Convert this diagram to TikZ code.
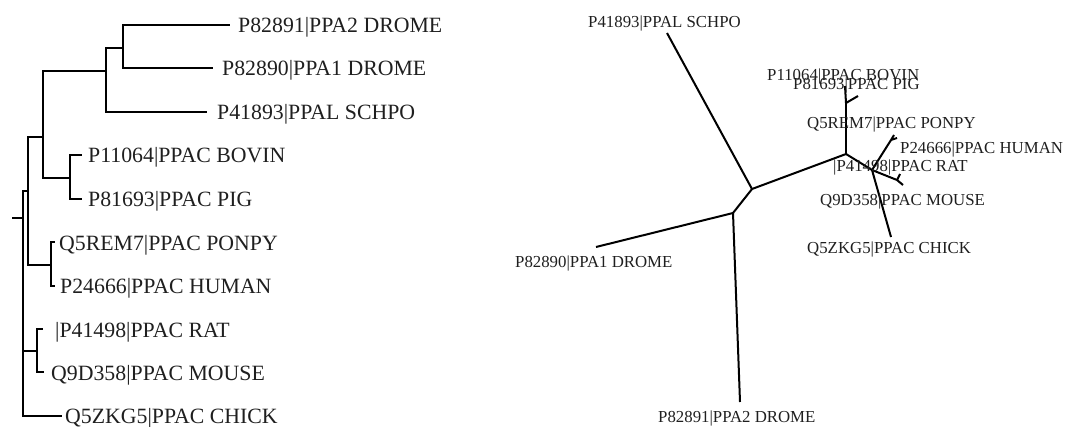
\documentclass[tikz,border=0pt]{standalone}
\usepackage{fontspec}
\setmainfont{Liberation Serif}
\tikzset{
  ltree/.style={line width=2.6pt, line join=miter},
  rtree/.style={line width=2pt, line join=round},
  llab/.style={anchor=base west, inner sep=0pt, text=black!88, font=\fontsize{21.8}{26}\selectfont},
  rlab/.style={anchor=base west, inner sep=0pt, text=black!88, font=\fontsize{16.8}{20}\selectfont},
}
\begin{document}
\begin{tikzpicture}[x=1pt,y=-1pt]
\useasboundingbox (0,0) rectangle (1067,426);

% ---------- rooted phylogram ----------
\coordinate (L0) at (12,218);
\coordinate (R) at (23,218);
\coordinate (E) at (28,191);
\coordinate (C) at (43,137);
\coordinate (B) at (106,71);
\coordinate (A) at (123,48);
\coordinate (D) at (70,178);
\coordinate (F) at (51,265);
\coordinate (G) at (37,351);
\coordinate (tDR2) at (230,25);
\coordinate (tDR1) at (213,68);
\coordinate (tSCH) at (207,112);
\coordinate (tBOV) at (82,155);
\coordinate (tPIG) at (82,199);
\coordinate (tPON) at (55,242);
\coordinate (tHUM) at (55,286);
\coordinate (tRAT) at (43,329);
\coordinate (tMOU) at (44,372);
\coordinate (tCHI) at (62,416);

\draw[ltree] (L0) -- (R);
\draw[ltree] (R) |- (E);
\draw[ltree] (R) |- (G);
\draw[ltree] (R) |- (tCHI);
\draw[ltree] (E) |- (C);
\draw[ltree] (E) |- (F);
\draw[ltree] (C) |- (B);
\draw[ltree] (C) |- (D);
\draw[ltree] (B) |- (A);
\draw[ltree] (B) |- (tSCH);
\draw[ltree] (A) |- (tDR2);
\draw[ltree] (A) |- (tDR1);
\draw[ltree] (D) |- (tBOV);
\draw[ltree] (D) |- (tPIG);
\draw[ltree] (F) |- (tPON);
\draw[ltree] (F) |- (tHUM);
\draw[ltree] (G) |- (tRAT);
\draw[ltree] (G) |- (tMOU);

\node[llab] (lDR2) at (238,32) {P82891|PPA2 DROME};
\node[llab] (lDR1) at (222,75) {P82890|PPA1 DROME};
\node[llab] (lSCH) at (217,119) {P41893|PPAL SCHPO};
\node[llab] (lBOV) at (88,162) {P11064|PPAC BOVIN};
\node[llab] (lPIG) at (88,206) {P81693|PPAC PIG};
\node[llab] (lPON) at (59,250) {Q5REM7|PPAC PONPY};
\node[llab] (lHUM) at (60,293) {P24666|PPAC HUMAN};
\node[llab] (lRAT) at (55,337) {|P41498|PPAC RAT};
\node[llab] (lMOU) at (51,380) {Q9D358|PPAC MOUSE};
\node[llab] (lCHI) at (65,423) {Q5ZKG5|PPAC CHICK};

% ---------- unrooted tree ----------
\coordinate (Z) at (733,213);
\coordinate (X) at (752,189);
\coordinate (Y) at (846,154);
\coordinate (W) at (846,103);
\coordinate (V) at (872,170);
\coordinate (U) at (891,140);
\coordinate (RM) at (897,180);
\coordinate (uSCH) at (667,33);
\coordinate (uDR1) at (596,247);
\coordinate (uDR2) at (740,402);
\coordinate (uBOV) at (845,86);
\coordinate (uPIG) at (858,96);
\coordinate (uPON) at (894,135);
\coordinate (uHUM) at (897,138);
\coordinate (uRAT) at (900,174);
\coordinate (uMOU) at (903,185);
\coordinate (uCHI) at (891,237);

\draw[rtree] (uSCH) -- (X);
\draw[rtree] (X) -- (Z);
\draw[rtree] (Z) -- (uDR1);
\draw[rtree] (Z) -- (uDR2);
\draw[rtree] (X) -- (Y);
\draw[rtree] (Y) -- (W);
\draw[rtree] (W) -- (uBOV);
\draw[rtree] (W) -- (uPIG);
\draw[rtree] (Y) -- (V);
\draw[rtree] (V) -- (U);
\draw[rtree] (U) -- (uPON);
\draw[rtree] (U) -- (uHUM);
\draw[rtree] (V) -- (RM);
\draw[rtree] (RM) -- (uRAT);
\draw[rtree] (RM) -- (uMOU);
\draw[rtree] (V) -- (uCHI);

\node[rlab] (rSCH) at (588,27) {P41893|PPAL SCHPO};
\node[rlab] (rDR1) at (515,267) {P82890|PPA1 DROME};
\node[rlab] (rDR2) at (658,422) {P82891|PPA2 DROME};
\node[rlab] (rBOV) at (767,80) {P11064|PPAC BOVIN};
\node[rlab] (rPIG) at (793,89) {P81693|PPAC PIG};
\node[rlab] (rPON) at (807,128) {Q5REM7|PPAC PONPY};
\node[rlab] (rHUM) at (900,153) {P24666|PPAC HUMAN};
\node[rlab] (rRAT) at (833,171) {|P41498|PPAC RAT};
\node[rlab] (rMOU) at (820,205) {Q9D358|PPAC MOUSE};
\node[rlab] (rCHI) at (807,253) {Q5ZKG5|PPAC CHICK};
\end{tikzpicture}
\end{document}
